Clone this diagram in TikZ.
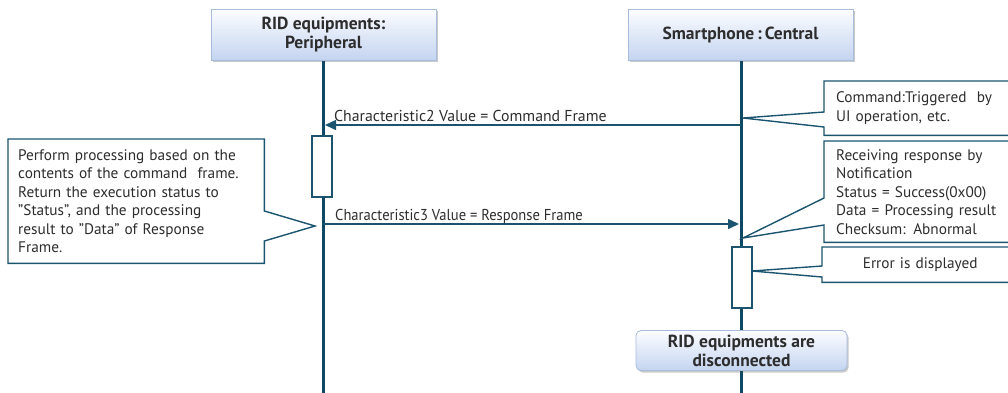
\documentclass[tikz,border=0pt]{standalone}
\usepackage{fontspec}
\setmainfont{PT Sans}
\usetikzlibrary{arrows.meta,shadows}
\definecolor{lifec}{RGB}{14,72,98}
\definecolor{ink}{RGB}{26,84,110}
\definecolor{hdtop}{RGB}{252,253,255}
\definecolor{hdbot}{RGB}{196,212,240}
\definecolor{hdline}{RGB}{168,188,220}
\definecolor{txt}{RGB}{45,45,45}
\begin{document}
\begin{tikzpicture}[x=1pt,y=-1pt,
  head/.style={draw=hdline, line width=0.8pt, top color=hdtop, bottom color=hdbot,
    font=\fontsize{17.5}{20}\selectfont\bfseries, text=txt, align=center, inner sep=0pt,
    drop shadow={shadow xshift=1.5pt, shadow yshift=-2pt, opacity=0.3, fill=black!70}},
  lifeline/.style={draw=lifec, line width=3pt},
  msg/.style={draw=ink, line width=1.5pt, -{Triangle[length=11pt,width=10pt]}},
  lbl/.style={font=\fontsize{15.8}{17}\selectfont, text=txt, inner sep=0pt},
  actbox/.style={draw=ink, line width=1.3pt, fill=white, minimum width=20pt, inner sep=0pt},
  notetext/.style={font=\fontsize{15.3}{18.5}\selectfont, text=txt, align=left, inner ysep=0pt},
  callout/.style={draw=ink, line width=1.4pt, line join=miter}
]
\useasboundingbox (0,0) rectangle (1008,392);

% lifelines
\coordinate (lbotL) at (323,400);
\coordinate (lbotR) at (741,400);
\coordinate (ltopL) at (323,60);
\coordinate (ltopR) at (741,60);
\draw[lifeline] (ltopL) -- (lbotL);
\draw[lifeline] (ltopR) -- (lbotR);

% headers
\node[head, minimum width=225pt, minimum height=51pt] (hl) at (323.5,34.5) {RID equipments:\\[-1pt]Peripheral};
\node[head, minimum width=225pt, minimum height=51pt] (hr) at (740.5,34.5) {Smartphone\,:\,Central};

% messages
\coordinate (m1r) at (741,125);
\coordinate (m1l) at (325,125);
\draw[msg] (m1r) -- (m1l);
\node[lbl, anchor=base west] (t1) at (334,121) {Characteristic2 Value = Command Frame};

\coordinate (m2l) at (323,224);
\coordinate (m2r) at (739,224);
\draw[msg] (m2l) -- (m2r);
\node[lbl, anchor=base west] (t2) at (335,220) {\scalebox{0.922}[1]{Characteristic3 Value = Response Frame}};

% activation boxes
\node[actbox, minimum height=61pt] (aL) at (322,166.5) {};
\node[actbox, minimum height=61pt] (aR) at (742,277.5) {};

% left note
\node[notetext, anchor=north west, text width=236pt, inner xsep=10pt, minimum height=124pt] (nl) at (8,139)
  {Perform processing based on the\\contents of the command\ \ frame.\\Return the execution status to\\"Status", and the processing\\result to "Data" of Response\\Frame.};
\coordinate (tipL) at (315,226);
\coordinate (bLa) at (262,211);
\coordinate (bLb) at (262,241);
\draw[callout] (nl.north west) -- (nl.north east) -- (nl.east |- bLa) -- (tipL) -- (nl.east |- bLb)
  -- (nl.south east) -- (nl.south west) -- cycle;

% right note 1
\node[notetext, anchor=north west, text width=178pt, inner xsep=12pt, minimum height=54pt] (n1) at (824,81)
  {Command:Triggered\ \ by\\UI operation, etc.};
\coordinate (tip1) at (743,118);
\coordinate (b1a) at (824,112);
\coordinate (b1b) at (824,127);
\draw[callout] (n1.north east) -- (n1.north west) -- (n1.west |- b1a) -- (tip1) -- (n1.west |- b1b)
  -- (n1.south west) -- (n1.south east);

% right note 2
\node[notetext, anchor=north west, text width=178pt, inner xsep=12pt, minimum height=101pt] (n2) at (824,141)
  {Receiving response by\\Notification\\Status = Success(0x00)\\Data = Processing result\\Checksum: Abnormal};
\coordinate (tip2) at (743,238);
\coordinate (b2a) at (824,198);
\coordinate (b2b) at (824,225);
\draw[callout] (n2.north east) -- (n2.north west) -- (n2.west |- b2a) -- (tip2) -- (n2.west |- b2b)
  -- (n2.south west) -- (n2.south east);

% right note 3
\node[notetext, anchor=north west, text width=196pt, align=center, inner xsep=0pt, minimum height=35pt] (n3) at (822,247)
  {Error is displayed};
\coordinate (tip3) at (752,271);
\coordinate (b3a) at (822,266);
\coordinate (b3b) at (822,277);
\draw[callout] (n3.north east) -- (n3.north west) -- (n3.west |- b3a) -- (tip3) -- (n3.west |- b3b)
  -- (n3.south west) -- (n3.south east);

% bottom state box
\node[head, rounded corners=5pt, minimum width=211pt, minimum height=40pt] (disc) at (741.5,350.5)
  {RID equipments are\\[-1pt]disconnected};
\end{tikzpicture}
\end{document}
